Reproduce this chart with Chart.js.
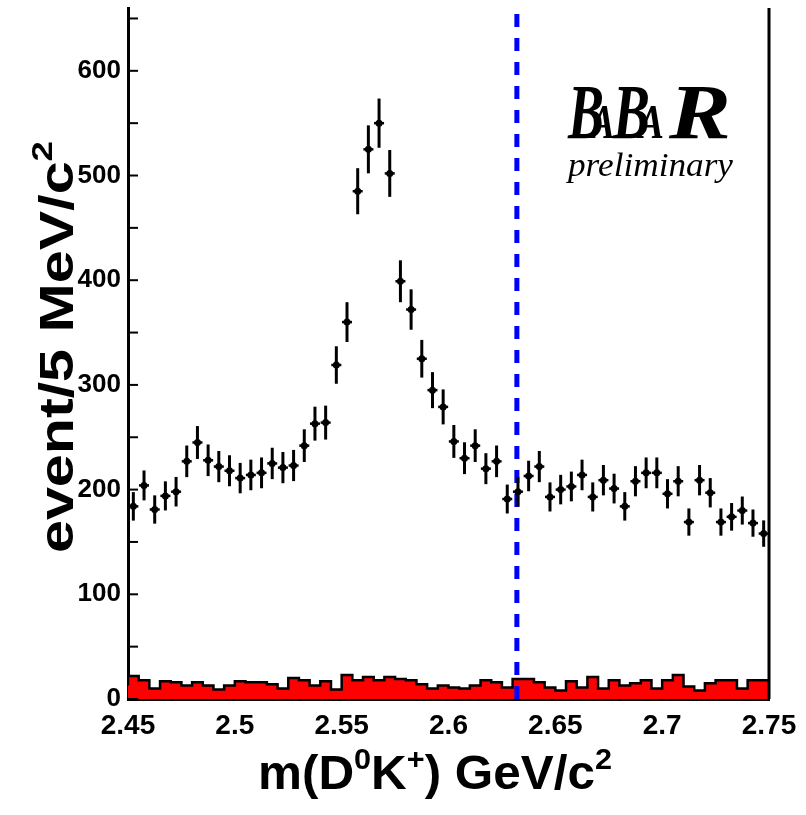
<!DOCTYPE html>
<html>
<head>
<meta charset="utf-8">
<script src="https://cdn.jsdelivr.net/npm/chart.js@4.4.1/dist/chart.umd.min.js"></script>
<style>
  html, body { margin: 0; padding: 0; background: #fff; }
  #wrap { width: 806px; height: 815px; }
</style>
</head>
<body>
<div id="wrap"><canvas id="massPlot" width="806" height="815"></canvas></div>
<script>
// 5 MeV bins from 2.45 to 2.75 GeV/c^2
const BIN_START = 2.45;
const BIN_WIDTH = 0.005;

// m(D0 K+) data, events per bin
const dataCounts = [
  184, 204, 181, 194, 198, 227, 245, 228, 222, 218,
  211, 214, 216, 225, 221, 223, 242, 263, 264, 319,
  360, 485, 525, 550, 502, 399, 372, 325, 295, 279,
  246, 230, 242, 220, 227, 191, 198, 213, 222, 193,
  200, 203, 214, 193, 209, 201, 184, 208, 216, 216,
  196, 208, 169, 209, 197, 169, 174, 180, 168, 158
];
const dataErrors = [
  13.6, 14.3, 13.5, 13.9, 14.1, 15.1, 15.7, 15.1, 14.9, 14.8,
  14.5, 14.6, 14.7, 15.0, 14.9, 14.9, 15.6, 16.2, 16.2, 17.9,
  19.0, 22.0, 22.9, 23.5, 22.4, 20.0, 19.3, 18.0, 17.2, 16.7,
  15.7, 15.2, 15.6, 14.8, 15.1, 13.8, 14.1, 14.6, 14.9, 13.9,
  14.1, 14.2, 14.6, 13.9, 14.5, 14.2, 13.6, 14.4, 14.7, 14.7,
  14.0, 14.4, 13.0, 14.5, 14.0, 13.0, 13.2, 13.4, 13.0, 12.6
];

// sideband / background histogram (red)
const bkgCounts = [
  13, 22, 18, 10, 17, 16, 13, 16, 13, 9,
  13, 17, 16, 16, 14, 10, 20, 18, 13, 17,
  9, 23, 18, 21, 18, 21, 19, 18, 14, 10,
  13, 11, 10, 13, 18, 16, 11, 19, 19, 16,
  11, 8, 17, 11, 21, 10, 18, 13, 15, 18,
  10, 18, 23, 12, 8, 15, 18, 18, 10, 18
];

const xTicks = [2.45, 2.5, 2.55, 2.6, 2.65, 2.7, 2.75];
const yTicks = [0, 100, 200, 300, 400, 500, 600];
const yMinorTicks = [0, 50, 100, 150, 200, 250, 300, 350, 400, 450, 500, 550, 600, 650];
const markerMass = 2.632;
const Y_MAX = 660;

const AXIS_FONT = '"Liberation Sans", Arial, sans-serif';
const SERIF_FONT = '"Liberation Serif", "Times New Roman", serif';

const binCenters = dataCounts.map((_, i) => BIN_START + BIN_WIDTH * (i + 0.5));
const dataPoints = dataCounts.map((v, i) => ({ x: binCenters[i], y: v }));
const bkgSteps = bkgCounts.map((v, i) => ({ x: BIN_START + BIN_WIDTH * i, y: v }));
bkgSteps.push({ x: BIN_START + BIN_WIDTH * bkgCounts.length, y: bkgCounts[bkgCounts.length - 1] });

function richWidth(ctx, parts, size) {
  let w = 0;
  for (const p of parts) {
    ctx.font = `bold ${p.sup ? size * 0.62 : size}px ${AXIS_FONT}`;
    w += ctx.measureText(p.text).width;
  }
  return w;
}

// draw title with superscripts, stretched along the baseline to `width`
function drawRich(ctx, parts, cx, y, size, width) {
  const stretch = width / richWidth(ctx, parts, size);
  ctx.save();
  ctx.translate(cx - width / 2, y);
  ctx.scale(stretch, 1);
  let x = 0;
  for (const p of parts) {
    const s = p.sup ? size * 0.62 : size;
    ctx.font = `bold ${s}px ${AXIS_FONT}`;
    ctx.fillText(p.text, x, p.sup ? -size * 0.42 : 0);
    x += ctx.measureText(p.text).width;
  }
  ctx.restore();
}

// stretch a string to a given width
function fitText(ctx, text, x, baseline, width, font) {
  ctx.font = font;
  const w = ctx.measureText(text).width;
  ctx.save();
  ctx.translate(x, baseline);
  ctx.scale(width / w, 1);
  ctx.fillText(text, 0, 0);
  ctx.restore();
}

const errorBars = {
  id: 'errorBars',
  afterDatasetsDraw(chart) {
    const { ctx, scales: { x, y } } = chart;
    ctx.save();
    ctx.strokeStyle = '#000';
    ctx.lineCap = 'butt';
    dataCounts.forEach((v, i) => {
      const px = x.getPixelForValue(binCenters[i]);
      const py = y.getPixelForValue(v);
      ctx.lineWidth = 3;
      ctx.beginPath();
      ctx.moveTo(px, y.getPixelForValue(v - dataErrors[i]));
      ctx.lineTo(px, y.getPixelForValue(v + dataErrors[i]));
      ctx.stroke();
      ctx.lineWidth = 2.5;
      ctx.beginPath();
      ctx.moveTo(px - 5, py);
      ctx.lineTo(px + 5, py);
      ctx.stroke();
    });
    ctx.restore();
  }
};

const frameAndText = {
  id: 'frameAndText',
  afterDraw(chart) {
    const { ctx, chartArea: a, scales: { y } } = chart;
    ctx.save();
    ctx.strokeStyle = '#000';
    ctx.fillStyle = '#000';

    // right frame line
    ctx.lineWidth = 3;
    ctx.beginPath();
    ctx.moveTo(a.right, a.top);
    ctx.lineTo(a.right, a.bottom);
    ctx.stroke();

    // inward ticks on the y axis
    ctx.lineWidth = 2;
    yMinorTicks.forEach(v => {
      const py = y.getPixelForValue(v);
      ctx.beginPath();
      ctx.moveTo(a.left, py);
      ctx.lineTo(a.left + 10, py);
      ctx.stroke();
    });

    // axis titles
    ctx.textBaseline = 'alphabetic';
    const xTitle = [
      { text: 'm(D' }, { text: '0', sup: true }, { text: 'K' }, { text: '+', sup: true },
      { text: ') GeV/c' }, { text: '2', sup: true }
    ];
    drawRich(ctx, xTitle, 435, 789, 48, 354);

    const yTitle = [{ text: 'event/5 MeV/c' }, { text: '2', sup: true }];
    ctx.save();
    ctx.translate(73, 347);
    ctx.rotate(-Math.PI / 2);
    drawRich(ctx, yTitle, 0, 0, 49, 412);
    ctx.restore();

    // experiment logo
    const big = `italic bold 78px ${SERIF_FONT}`;
    const small = `italic bold 48px ${SERIF_FONT}`;
    fitText(ctx, 'B', 568, 138, 36, big);
    fitText(ctx, 'A', 590, 138, 25, small);
    fitText(ctx, 'B', 613, 138, 37, big);
    fitText(ctx, 'A', 638, 138, 26, small);
    fitText(ctx, 'R', 669, 138, 62, `italic 600 78px ${SERIF_FONT}`);
    fitText(ctx, 'preliminary', 568, 176, 165, `italic 34px ${SERIF_FONT}`);
    ctx.restore();
  }
};

new Chart(document.getElementById('massPlot'), {
  type: 'line',
  data: {
    datasets: [
      {
        label: 'data',
        data: dataPoints,
        showLine: false,
        pointRadius: 3.5,
        pointHoverRadius: 3.5,
        pointBackgroundColor: '#000',
        pointBorderWidth: 0,
        order: 0
      },
      {
        label: 'marker',
        data: [{ x: markerMass, y: 0 }, { x: markerMass, y: Y_MAX }],
        borderColor: '#0000ff',
        borderWidth: 5,
        borderDash: [13, 11],
        pointRadius: 0,
        order: 1
      },
      {
        label: 'background',
        data: bkgSteps,
        stepped: 'after',
        borderColor: '#000',
        borderWidth: 2.5,
        backgroundColor: '#ff0000',
        fill: 'origin',
        pointRadius: 0,
        order: 2
      }
    ]
  },
  options: {
    responsive: false,
    animation: false,
    devicePixelRatio: 1,
    layout: { padding: { top: 8, right: 37, left: 0, bottom: 0 } },
    plugins: {
      legend: { display: false },
      tooltip: { enabled: false }
    },
    scales: {
      x: {
        type: 'linear',
        min: BIN_START,
        max: 2.75,
        afterBuildTicks: (scale) => { scale.ticks = xTicks.map(v => ({ value: v })); },
        afterFit: (scale) => {
          scale.height = 116;
          scale.paddingLeft = 0;
          scale.paddingRight = 0;
        },
        grid: { display: false, drawTicks: false },
        border: { display: true, color: '#000', width: 3 },
        ticks: {
          color: '#000',
          padding: 10,
          maxRotation: 0,
          autoSkip: false,
          font: { family: AXIS_FONT, size: 28, weight: 'bold' },
          callback: (v) => String(Number(v.toFixed(2)))
        }
      },
      y: {
        type: 'linear',
        min: 0,
        max: Y_MAX,
        afterBuildTicks: (scale) => { scale.ticks = yTicks.map(v => ({ value: v })); },
        afterFit: (scale) => {
          scale.width = 128;
          scale.paddingTop = 0;
          scale.paddingBottom = 0;
        },
        grid: { display: false, drawTicks: false },
        border: { display: true, color: '#000', width: 3 },
        ticks: {
          color: '#000',
          padding: 7,
          font: { family: AXIS_FONT, size: 26, weight: 'bold' }
        }
      }
    }
  },
  plugins: [errorBars, frameAndText]
});
</script>
</body>
</html>
